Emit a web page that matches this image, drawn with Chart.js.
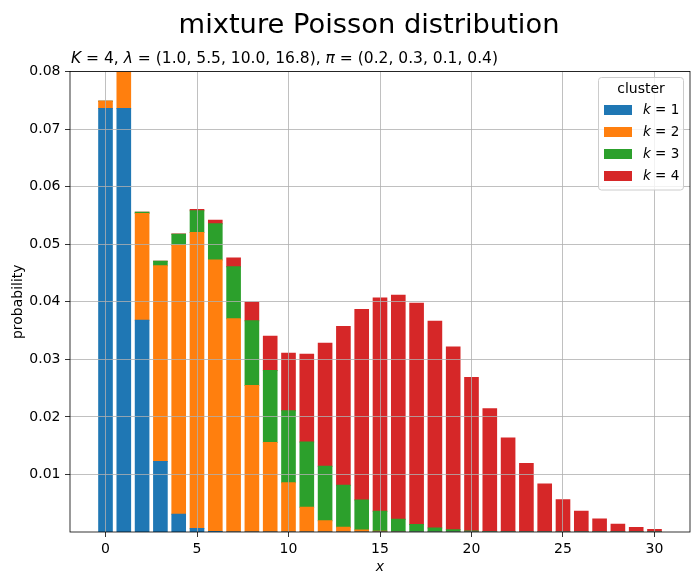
<!DOCTYPE html>
<html>
<head>
<meta charset="utf-8">
<script src="https://cdn.jsdelivr.net/npm/chart.js@4/dist/chart.umd.min.js"></script>
<style>
  html, body { margin: 0; padding: 0; background: #fff; }
  canvas { display: block; }
</style>
</head>
<body>
<canvas id="g-mixture" width="700" height="585"></canvas>
<script>
// values (weighted pmf of each cluster)
var xValues = [0, 1, 2, 3, 4, 5, 6, 7, 8, 9, 10, 11, 12, 13, 14, 15, 16, 17, 18, 19, 20, 21, 22, 23, 24, 25, 26, 27, 28, 29, 30];
var cluster1 = [0.07358, 0.07358, 0.03679, 0.01226, 0.00307, 0.00061, 0.00010, 0.00001, 0, 0, 0, 0, 0, 0, 0, 0, 0, 0, 0, 0, 0, 0, 0, 0, 0, 0, 0, 0, 0, 0, 0];
var cluster2 = [0.00123, 0.00674, 0.01854, 0.03400, 0.04675, 0.05142, 0.04714, 0.03704, 0.02546, 0.01556, 0.00856, 0.00428, 0.00196, 0.00083, 0.00033, 0.00012, 0.00004, 0.00001, 0, 0, 0, 0, 0, 0, 0, 0, 0, 0, 0, 0, 0];
var cluster3 = [0, 0.00005, 0.00023, 0.00076, 0.00189, 0.00378, 0.00631, 0.00901, 0.01126, 0.01251, 0.01251, 0.01137, 0.00948, 0.00729, 0.00521, 0.00347, 0.00217, 0.00128, 0.00071, 0.00037, 0.00019, 0.00009, 0.00004, 0.00002, 0.00001, 0, 0, 0, 0, 0, 0];
var cluster4 = [0, 0, 0, 0.00002, 0.00007, 0.00023, 0.00063, 0.00152, 0.00318, 0.00594, 0.00998, 0.01525, 0.02134, 0.02758, 0.03310, 0.03707, 0.03893, 0.03847, 0.03590, 0.03175, 0.02667, 0.02133, 0.01629, 0.01190, 0.00833, 0.00560, 0.00362, 0.00225, 0.00135, 0.00078, 0.00044];
var clusterLabels = ['1', '2', '3', '4'];
var xTicks = [0, 5, 10, 15, 20, 25, 30];
var yTicks = [0.01, 0.02, 0.03, 0.04, 0.05, 0.06, 0.07, 0.08];

var mainTitle = 'mixture Poisson distribution';
// [text, italic]
var subtitleParts = [
    ['K', true], [' = 4, ', false],
    ['λ', true], [' = (1.0, 5.5, 10.0, 16.8), ', false],
    ['π', true], [' = (0.2, 0.3, 0.1, 0.4)', false]
];
var legendTitle = 'cluster';

var colors = ['#1f77b4', '#ff7f0e', '#2ca02c', '#d62728'];
var FONT = '"DejaVu Sans", sans-serif';

Chart.defaults.font.family = FONT;
Chart.defaults.font.size = 14;
Chart.defaults.color = '#000';

function drawParts(ctx, parts, x, y, size) {
    ctx.textAlign = 'left';
    parts.forEach(function (p) {
        ctx.font = (p[1] ? 'italic ' : '') + size + 'px ' + FONT;
        ctx.fillText(p[0], x, y);
        x += ctx.measureText(p[0]).width;
    });
}

var decor = {
    id: 'decor',
    afterDraw: function (chart) {
        var ctx = chart.ctx;
        var a = chart.chartArea;
        ctx.save();

        // spines
        ctx.strokeStyle = '#000';
        ctx.lineWidth = 0.8;
        ctx.strokeRect(a.left, a.top, a.right - a.left, a.bottom - a.top);

        // titles
        ctx.fillStyle = '#000';
        ctx.textBaseline = 'alphabetic';
        ctx.textAlign = 'center';
        ctx.font = '27.3px ' + FONT;
        ctx.fillText(mainTitle, 369, 33);
        drawParts(ctx, subtitleParts, a.left + 1, 62.5, 15.5);

        // legend
        var lx = 598.5, ly = 77.5, lw = 85, lh = 112.5;
        ctx.beginPath();
        ctx.roundRect(lx, ly, lw, lh, 3);
        ctx.fillStyle = 'rgba(255,255,255,0.8)';
        ctx.fill();
        ctx.strokeStyle = '#cccccc';
        ctx.lineWidth = 1;
        ctx.stroke();

        ctx.fillStyle = '#000';
        ctx.textAlign = 'center';
        ctx.textBaseline = 'middle';
        ctx.font = '14px ' + FONT;
        ctx.fillText(legendTitle, 641, 89);

        chart.data.datasets.forEach(function (ds, i) {
            var cy = 110 + i * 22;
            ctx.fillStyle = ds.backgroundColor;
            ctx.fillRect(604, cy - 5, 28, 10);
            ctx.fillStyle = '#000';
            ctx.textBaseline = 'middle';
            drawParts(ctx, [['k', true], [' = ' + clusterLabels[i], false]], 643, cy, 13.5);
        });

        ctx.restore();
    }
};

var ctxMixture = document.getElementById('g-mixture');

var gMixture = new Chart(ctxMixture, {
    type: 'bar',
    data: {
        labels: xValues,
        datasets: [cluster1, cluster2, cluster3, cluster4].map(function (d, i) {
            return {
                label: 'k = ' + clusterLabels[i],
                data: d,
                backgroundColor: colors[i],
                borderWidth: 0,
                inflateAmount: 0.5,
                barPercentage: 0.745,
                categoryPercentage: 1.0
            };
        })
    },
    options: {
        responsive: false,
        animation: false,
        devicePixelRatio: 1,
        layout: { padding: { top: 71.5, right: 10, bottom: 0, left: 0 } },
        plugins: {
            legend: { display: false },
            title: { display: false },
            tooltip: { enabled: false }
        },
        scales: {
            x: {
                type: 'linear',
                stacked: true,
                offset: false,
                min: -1.94,
                max: 31.94,
                afterBuildTicks: function (scale) {
                    scale.ticks = xTicks.map(function (v) { return { value: v }; });
                },
                afterFit: function (scale) { scale.height = 53; },
                ticks: {
                    padding: 4,
                    maxRotation: 0,
                    callback: function (v) { return String(v); }
                },
                grid: {
                    z: 1,
                    offset: false,
                    color: '#b0b0b0',
                    lineWidth: 0.8,
                    tickColor: '#000',
                    tickWidth: 0.8,
                    tickLength: 5
                },
                border: { display: false },
                title: {
                    display: true,
                    text: 'x',
                    font: { style: 'italic', size: 14 },
                    padding: { top: 0, bottom: 9.6 }
                }
            },
            y: {
                stacked: true,
                min: 0,
                max: 0.08,
                afterBuildTicks: function (scale) {
                    scale.ticks = yTicks.map(function (v) { return { value: v }; });
                },
                afterFit: function (scale) { scale.width = 70; },
                ticks: {
                    padding: 4.5,
                    callback: function (v) { return v.toFixed(2); }
                },
                grid: {
                    z: 1,
                    color: '#b0b0b0',
                    lineWidth: 0.8,
                    tickColor: '#000',
                    tickWidth: 0.8,
                    tickLength: 5
                },
                border: { display: false },
                title: {
                    display: true,
                    text: 'probability',
                    font: { size: 14 },
                    padding: { top: 9.6, bottom: 0 }
                }
            }
        }
    },
    plugins: [decor]
});
</script>
</body>
</html>
